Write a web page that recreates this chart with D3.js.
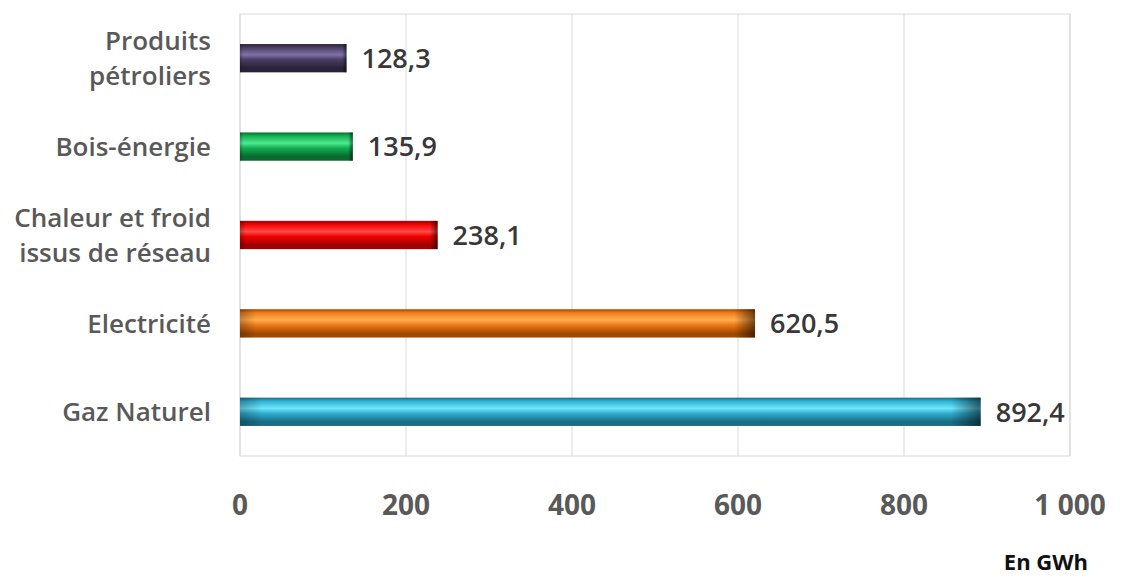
<!DOCTYPE html>
<html><head><meta charset="utf-8">
<script src="https://cdn.jsdelivr.net/npm/d3@7"></script>
<style>body{margin:0;background:#fff}svg{display:block}</style>
</head><body>
<script>
const categories = ["Produits pétroliers", "Bois-énergie", "Chaleur et froid issus de réseau", "Electricité", "Gaz Naturel"];
const categoryLines = [["Produits", "pétroliers"], ["Bois-énergie"], ["Chaleur et froid", "issus de réseau"], ["Electricité"], ["Gaz Naturel"]];
const values = [128.3, 135.9, 238.1, 620.5, 892.4];
const valueLabels = ["128,3", "135,9", "238,1", "620,5", "892,4"];
const tickValues = [0, 200, 400, 600, 800, 1000];
const tickLabels = ["0", "200", "400", "600", "800", "1 000"];
const barColors = [
  {dark:"#2a2238", mid:"#4a3d62", light:"#8070a8"},
  {dark:"#0a6a30", mid:"#10b050", light:"#50e890"},
  {dark:"#a00000", mid:"#f00000", light:"#ff4a4a"},
  {dark:"#a04a00", mid:"#f07a18", light:"#ffb050"},
  {dark:"#1a6c82", mid:"#30b0d0", light:"#70e4ff"}
];

const W = 1127, H = 579;
const m = {left:240, right:57, top:14, bottom:123};
const FONT = "'Open Sans', sans-serif";
const svg = d3.select("body").append("svg").attr("width", W).attr("height", H);
const defs = svg.append("defs");

const x = d3.scaleLinear().domain([0, 1000]).range([m.left, W - m.right]);
const y = d3.scaleBand().domain(categories).range([m.top, H - m.bottom]).paddingInner(0.68).paddingOuter(0.34);

// gradients
barColors.forEach((c, i) => {
  const g = defs.append("linearGradient").attr("id", "gv" + i).attr("x1", 0).attr("y1", 0).attr("x2", 0).attr("y2", 1);
  [[0, c.dark], [0.12, c.mid], [0.38, c.light], [0.55, c.mid], [0.85, c.dark], [1, c.dark]]
    .forEach(([o, col]) => g.append("stop").attr("offset", o).attr("stop-color", col));
});
const gh = defs.append("linearGradient").attr("id", "gh").attr("x1", 0).attr("x2", 1).attr("y1", 0).attr("y2", 0);
[[0, "#000", 0.25], [0.03, "#000", 0], [0.96, "#000", 0], [1, "#000", 0.55]]
  .forEach(([o, col, op]) => gh.append("stop").attr("offset", o).attr("stop-color", col).attr("stop-opacity", op));

// gridlines & border
svg.append("g").selectAll("line").data(tickValues).join("line")
  .attr("x1", d => x(d)).attr("x2", d => x(d))
  .attr("y1", m.top).attr("y2", H - m.bottom)
  .attr("stroke", "#d9d9d9").attr("stroke-width", 1);
svg.append("rect").attr("x", m.left).attr("y", m.top)
  .attr("width", x(1000) - m.left).attr("height", H - m.bottom - m.top)
  .attr("fill", "none").attr("stroke", "#d9d9d9");

// bars
const bars = svg.append("g").selectAll("g").data(categories).join("g");
bars.append("rect")
  .attr("x", x(0)).attr("y", d => y(d))
  .attr("width", (d, i) => x(values[i]) - x(0)).attr("height", y.bandwidth())
  .attr("fill", (d, i) => `url(#gv${i})`);
bars.append("rect")
  .attr("x", x(0)).attr("y", d => y(d))
  .attr("width", (d, i) => x(values[i]) - x(0)).attr("height", y.bandwidth())
  .attr("fill", "url(#gh)");

// value labels
svg.append("g").selectAll("text").data(categories).join("text")
  .attr("x", (d, i) => x(values[i]) + 15)
  .attr("y", d => y(d) + y.bandwidth() / 2)
  .attr("dy", "0.36em")
  .attr("font-family", FONT).attr("font-weight", 600)
  .attr("font-size", 27).attr("fill", "#383838")
  .text((d, i) => valueLabels[i]);

// category labels
const cat = svg.append("g").selectAll("text").data(categories).join("text")
  .attr("text-anchor", "end")
  .attr("font-family", FONT).attr("font-weight", 600)
  .attr("font-size", 26).attr("fill", "#595959");
cat.each(function(d, i) {
  const lines = categoryLines[i];
  const cy = y(d) + y.bandwidth() / 2;
  const lh = 35;
  const t = d3.select(this);
  lines.forEach((ln, k) => {
    t.append("tspan").attr("x", 211)
      .attr("y", cy + (k - (lines.length - 1) / 2) * lh)
      .attr("dy", "0.36em").text(ln);
  });
});

// x axis tick labels
svg.append("g").selectAll("text").data(tickValues).join("text")
  .attr("x", d => x(d)).attr("y", 505).attr("dy", "0.36em")
  .attr("text-anchor", "middle")
  .attr("font-family", FONT).attr("font-weight", 700)
  .attr("font-size", 28).attr("fill", "#595959")
  .text((d, i) => tickLabels[i]);

// unit
svg.append("text").attr("x", 1088).attr("y", 562).attr("dy", "0.36em")
  .attr("text-anchor", "end")
  .attr("font-family", FONT).attr("font-weight", 700)
  .attr("font-size", 22).attr("fill", "#111")
  .text("En GWh");
</script>
</body></html>
